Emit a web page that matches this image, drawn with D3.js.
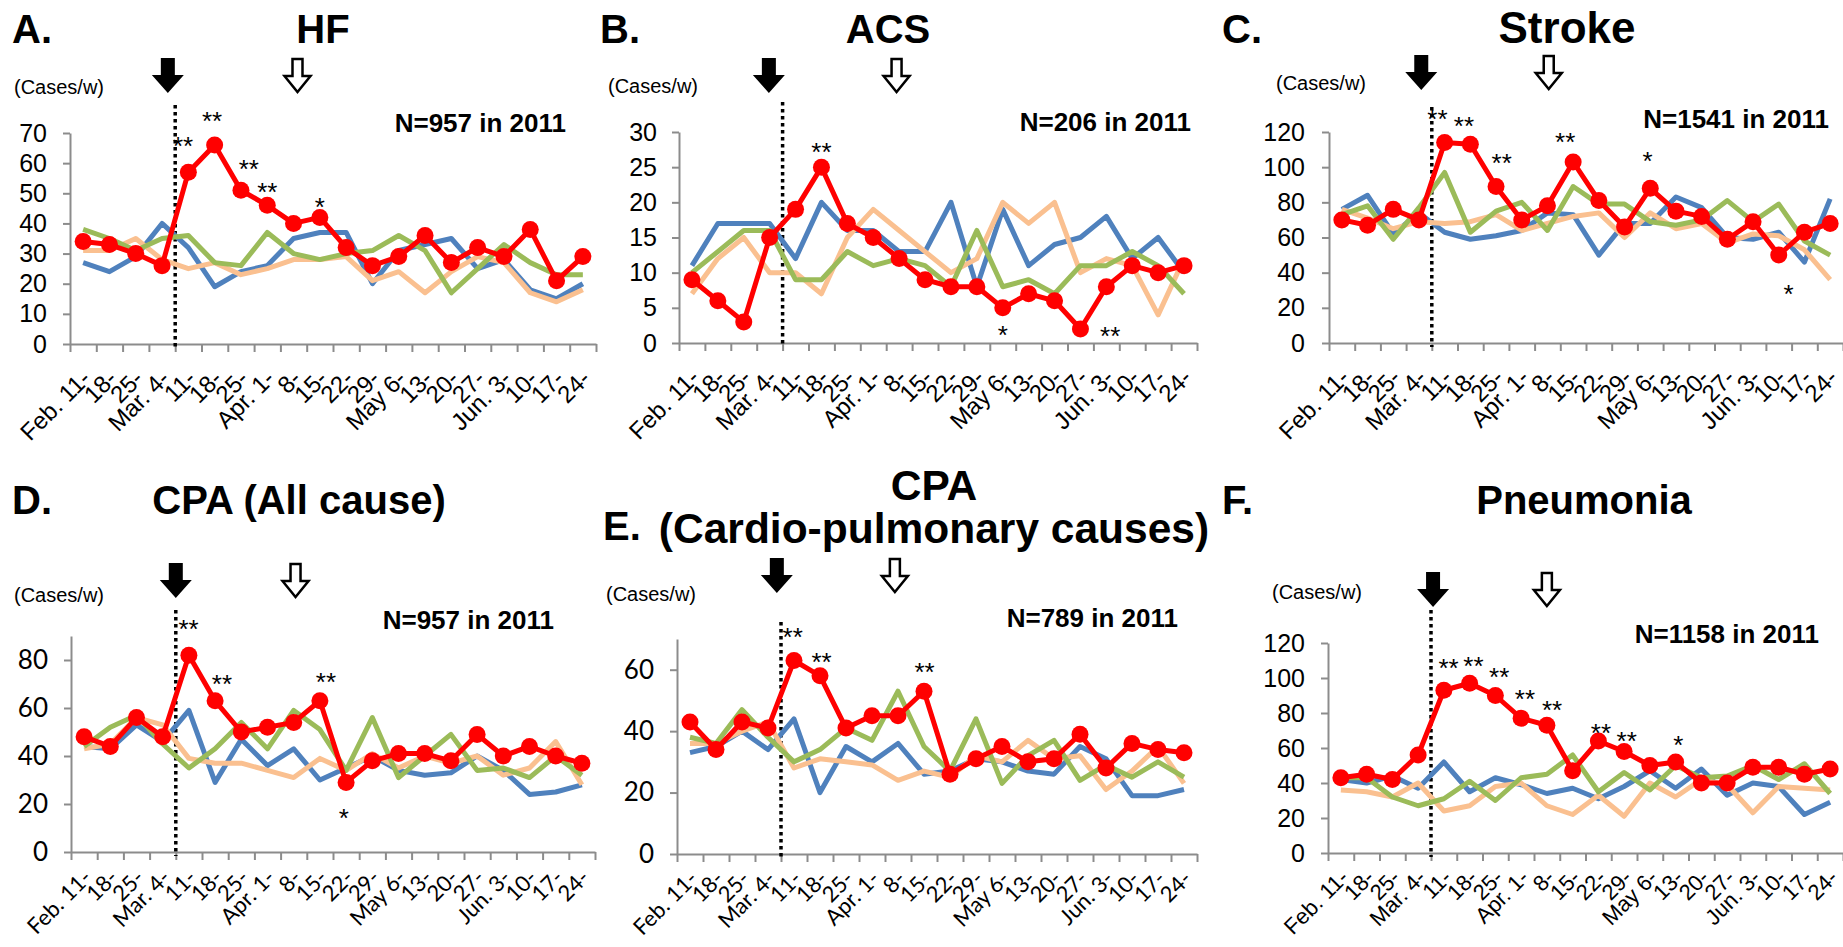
<!DOCTYPE html>
<html><head><meta charset="utf-8">
<script src="https://cdn.jsdelivr.net/npm/d3@7"></script>
<style>body{margin:0;background:#fff} svg{display:block}</style>
</head><body><svg id="c" width="1843" height="947"></svg>
<script>
const weeks = ["Feb. 11-","18-","25-","Mar. 4-","11-","18-","25-","Apr. 1-","8-","15-","22-","29-","May 6-","13-","20-","27-","Jun. 3-","10-","17-","24-"];

// A. HF
const hfBlue  = [27,24,29,40,32,19,24,26,35,37,37,20,31,33,35,25,28,18,15,20];
const hfPeach = [31,31,35,28,25,27,23,25,28,28,29,21,24,17,24,29,27,17,14,18];
const hfGreen = [38,35,31,35,36,27,26,37,30,28,30,31,36,31,17,25,33,27,23,23];
const hfRed   = [34,33,30,26,57,66,51,46,40,42,32,26,29,36,27,32,29,38,21,29];
// B. ACS
const acsBlue  = [11,17,17,17,12,20,16,16,13,13,20,8,19,11,14,15,18,12,15,10];
const acsPeach = [7,12,15,10,10,7,15,19,16,13,10,12,20,17,20,10,12,11,4,12];
const acsGreen = [10,13,16,16,9,9,13,11,12,11,8,16,8,9,7,11,11,13,11,7];
const acsRed   = [9,6,3,15,19,25,17,15,12,9,8,8,5,7,6,2,8,11,10,11];
// C. Stroke
const strokeBlue  = [76,84,62,74,63,59,61,64,74,73,50,68,68,83,77,60,59,63,46,82];
const strokePeach = [76,71,65,69,68,69,73,64,68,72,74,60,74,65,68,57,62,61,53,36];
const strokeGreen = [73,78,59,77,97,63,75,80,64,89,79,79,69,67,70,81,69,79,58,50];
const strokeRed   = [70,67,76,70,114,113,89,70,78,103,81,66,88,75,72,59,69,50,63,68];
// D. CPA (All cause)
const cpaBlue  = [44,43,53,46,59,29,47,36,43,30,35,40,34,32,33,40,34,24,25,28];
const cpaPeach = [43,45,56,53,39,37,37,34,31,39,34,41,35,40,37,40,32,35,46,28];
const cpaGreen = [44,52,57,45,35,43,54,43,59,51,34,56,31,40,49,34,35,31,40,32];
const cpaRed   = [48,44,56,48,82,63,50,52,54,63,29,38,41,41,38,49,40,44,40,37];
// E. CPA (Cardio-pulmonary causes)
const cpcBlue  = [33,35,40,34,44,20,35,30,36,26,27,31,30,27,26,35,31,19,19,21];
const cpcPeach = [36,36,40,43,28,31,30,29,24,27,25,32,30,37,31,32,21,27,35,23];
const cpcGreen = [38,36,47,38,30,34,41,37,53,35,27,44,23,32,37,24,29,25,30,25];
const cpcRed   = [43,34,43,41,63,58,41,45,45,53,26,31,35,30,31,39,28,36,34,33];
// F. Pneumonia
const pnBlue  = [42,40,44,37,52,35,43,39,34,37,31,38,47,37,48,33,40,38,22,29];
const pnPeach = [36,35,32,40,24,27,38,40,27,22,33,21,40,32,42,39,23,38,37,36];
const pnGreen = [43,43,32,27,31,41,30,43,45,56,35,46,36,50,43,44,50,42,51,34];
const pnRed   = [43,45,42,56,93,97,90,77,73,47,64,58,50,52,40,40,49,49,45,48];

// y tick labels per panel
const hfTicks = [0,10,20,30,40,50,60,70];
const acsTicks = [0,5,10,15,20,25,30];
const strokeTicks = [0,20,40,60,80,100,120];
const cpaTicks = [0,20,40,60,80];
const cpcTicks = [0,20,40,60];
const pnTicks = [0,20,40,60,80,100,120];

// significance marks: week index, mark, level (cases/w)
const hfStarIdx = [3.8,4.9,6.3,7.0,9.0], hfStarTxt = ["**","**","**","**","*"], hfStarLvl = [67.8,76,60,52.3,47.3];
const acsStarIdx = [5.0,12.0,16.15], acsStarTxt = ["**","*","**"], acsStarLvl = [28,2.0,1.9];
const strokeStarIdx = [3.72,4.75,6.22,8.69,11.9,17.38], strokeStarTxt = ["**","**","**","**","*","*"], strokeStarLvl = [131,126.6,105.8,118,106.7,31];
const cpaStarIdx = [3.99,5.26,9.23,9.91], cpaStarTxt = ["**","**","**","*"], cpaStarLvl = [95.6,72.6,73.3,16.5];
const cpcStarIdx = [3.95,5.06,9.02], cpcStarTxt = ["**","**","**"], cpcStarLvl = [72.5,64.6,61.1];
const pnStarIdx = [4.18,5.15,6.15,7.15,8.2,10.1,11.1,13.1], pnStarTxt = ["**","**","**","**","**","**","**","*"], pnStarLvl = [109,110.5,104,91.4,85.3,72,67.2,65.3];

const COLORS = {blue:"#4F81BD", peach:"#FAC090", green:"#9BBB59", red:"#FF0000"};
const ARIAL = "'Liberation Sans', Arial, sans-serif";
const CALI = "Lato, 'Open Sans', sans-serif";

const panels = [
  {letter:"A.", title:["HF"], N:"N=957 in 2011", max:70, ticks:hfTicks,
   series:[hfBlue,hfPeach,hfGreen,hfRed], stars:[hfStarIdx,hfStarTxt,hfStarLvl],
   L:{x0:70,x1:596,yTop:133,yBot:344, lx:12, ly:43, tx:323, tFs:40, ty:[43], cx:14, cy:94, nx:566, ny:132,
      blackIdx:3.22, hollowIdx:8.15, arrowTop:58, dotTop:105, yFont:ARIAL, yFs:25, yPad:16, xFont:ARIAL, xFs:24, xOff:36}},
  {letter:"B.", title:["ACS"], N:"N=206 in 2011", max:30, ticks:acsTicks,
   series:[acsBlue,acsPeach,acsGreen,acsRed], stars:[acsStarIdx,acsStarTxt,acsStarLvl],
   L:{x0:679,x1:1197,yTop:132,yBot:343, lx:600, ly:43, tx:888, tFs:40, ty:[43], cx:608, cy:93, nx:1191, ny:131,
      blackIdx:2.97, hollowIdx:7.9, arrowTop:58, dotTop:102, yFont:ARIAL, yFs:25, yPad:15, xFont:ARIAL, xFs:24, xOff:36}},
  {letter:"C.", title:["Stroke"], N:"N=1541 in 2011", max:120, ticks:strokeTicks,
   series:[strokeBlue,strokePeach,strokeGreen,strokeRed], stars:[strokeStarIdx,strokeStarTxt,strokeStarLvl],
   L:{x0:1329,x1:1843,yTop:132,yBot:343, lx:1222, ly:43, tx:1567, tFs:44, ty:[43], cx:1276, cy:90, nx:1829, ny:128,
      blackIdx:3.09, hollowIdx:8.05, arrowTop:55, dotTop:107, yFont:ARIAL, yFs:25, yPad:17, xFont:ARIAL, xFs:24, xOff:36}},
  {letter:"D.", title:["CPA (All cause)"], N:"N=957 in 2011", max:90, ticks:cpaTicks,
   series:[cpaBlue,cpaPeach,cpaGreen,cpaRed], stars:[cpaStarIdx,cpaStarTxt,cpaStarLvl],
   L:{x0:71,x1:595,yTop:636,yBot:852, lx:12, ly:514, tx:299, tFs:40, ty:[514], cx:14, cy:602, nx:554, ny:629,
      blackIdx:3.5, hollowIdx:8.07, arrowTop:563, dotTop:610, yFont:CALI, yFs:26, yPad:16, xFont:CALI, xFs:22, xOff:27}},
  {letter:"E.", title:["CPA","(Cardio-pulmonary causes)"], N:"N=789 in 2011", max:70, ticks:cpcTicks,
   series:[cpcBlue,cpcPeach,cpcGreen,cpcRed], stars:[cpcStarIdx,cpcStarTxt,cpcStarLvl],
   L:{x0:677,x1:1197,yTop:639,yBot:854, lx:603, ly:540, tx:934, tFs:42.5, ty:[500,543], cx:606, cy:601, nx:1178, ny:627,
      blackIdx:3.34, hollowIdx:7.88, arrowTop:558, dotTop:622, yFont:CALI, yFs:26, yPad:16, xFont:CALI, xFs:22, xOff:26}},
  {letter:"F.", title:["Pneumonia"], N:"N=1158 in 2011", max:120, ticks:pnTicks,
   series:[pnBlue,pnPeach,pnGreen,pnRed], stars:[pnStarIdx,pnStarTxt,pnStarLvl],
   L:{x0:1328,x1:1843,yTop:643,yBot:853, lx:1222, ly:514, tx:1584, tFs:40, ty:[514], cx:1272, cy:599, nx:1819, ny:643,
      blackIdx:3.58, hollowIdx:8.0, arrowTop:572, dotTop:610, yFont:ARIAL, yFs:25, yPad:16, xFont:ARIAL, xFs:22, xOff:26}}
];

const svg = d3.select("#c");
const AX = "#8C8C8C";

function drawPanel(p) {
  const L = p.L;
  const g = svg.append("g");
  const x = d3.scaleLinear().domain([-0.5, weeks.length - 0.5]).range([L.x0, L.x1]);
  const y = d3.scaleLinear().domain([0, p.max]).range([L.yBot, L.yTop]);

  // y axis
  const ya = g.append("g").attr("transform", `translate(${L.x0},0)`)
    .call(d3.axisLeft(y).tickValues(p.ticks).tickSize(7).tickSizeOuter(0).tickPadding(L.yPad).tickFormat(d3.format("d")));
  ya.select(".domain").attr("stroke", AX).attr("stroke-width", 2);
  ya.selectAll(".tick line").attr("stroke", AX).attr("stroke-width", 2);
  ya.selectAll(".tick text").attr("font-family", L.yFont).attr("font-size", L.yFs).attr("fill", "#000");

  // x axis (ticks at week boundaries)
  const xa = g.append("g").attr("transform", `translate(0,${L.yBot})`)
    .call(d3.axisBottom(x).tickValues(d3.range(-0.5, weeks.length, 1)).tickSize(8).tickSizeOuter(0).tickFormat(""));
  xa.select(".domain").attr("stroke", AX).attr("stroke-width", 2);
  xa.selectAll(".tick line").attr("stroke", AX).attr("stroke-width", 2);

  g.append("g").selectAll("text").data(weeks).join("text")
    .attr("transform", (d, i) => `translate(${x(i) + 9},${L.yBot + L.xOff}) rotate(-45)`)
    .attr("text-anchor", "end")
    .attr("font-family", L.xFont).attr("font-size", L.xFs).attr("fill", "#000")
    .text(d => d);

  // dotted line at Mar. 11
  g.append("line").attr("x1", x(3.5)).attr("x2", x(3.5)).attr("y1", L.dotTop).attr("y2", L.yBot + 4)
    .attr("stroke", "#000").attr("stroke-width", 3.5).attr("stroke-dasharray", "3.5,3.5");

  // series lines
  const line = d3.line().x((d, i) => x(i)).y(d => y(d));
  const cols = [COLORS.blue, COLORS.peach, COLORS.green, COLORS.red];
  p.series.forEach((s, k) => {
    g.append("path").datum(s).attr("d", line).attr("fill", "none")
      .attr("stroke", cols[k]).attr("stroke-width", 5).attr("stroke-linejoin", "round");
  });
  g.append("g").selectAll("circle").data(p.series[3]).join("circle")
    .attr("cx", (d, i) => x(i)).attr("cy", d => y(d)).attr("r", 8.5).attr("fill", COLORS.red);

  // stars
  const [si, st, sl] = p.stars;
  g.append("g").selectAll("text").data(si).join("text")
    .attr("x", d => x(d)).attr("y", (d, k) => y(sl[k]) + 15)
    .attr("text-anchor", "middle").attr("font-family", ARIAL).attr("font-size", 26).attr("fill", "#000")
    .text((d, k) => st[k]);

  // labels
  g.append("text").attr("x", L.lx).attr("y", L.ly).text(p.letter)
    .attr("font-family", ARIAL).attr("font-weight", "bold").attr("font-size", 40);
  p.title.forEach((t, k) => g.append("text").attr("x", L.tx).attr("y", L.ty[k]).attr("text-anchor", "middle").text(t)
    .attr("font-family", ARIAL).attr("font-weight", "bold").attr("font-size", L.tFs));
  g.append("text").attr("x", L.cx).attr("y", L.cy).text("(Cases/w)")
    .attr("font-family", ARIAL).attr("font-size", 20);
  g.append("text").attr("x", L.nx).attr("y", L.ny).attr("text-anchor", "end").text(p.N)
    .attr("font-family", ARIAL).attr("font-weight", "bold").attr("font-size", 26);

  // arrows
  const ax = x(L.blackIdx), hx = x(L.hollowIdx), t = L.arrowTop;
  g.append("path").attr("d", `M${ax-7},${t}H${ax+7}V${t+17}H${ax+16}L${ax},${t+35}L${ax-16},${t+17}H${ax-7}Z`)
    .attr("fill", "#000");
  g.append("path").attr("d", `M${hx-5},${t+1}H${hx+5}V${t+18}H${hx+13}L${hx},${t+34}L${hx-13},${t+18}H${hx-5}Z`)
    .attr("fill", "#fff").attr("stroke", "#000").attr("stroke-width", 2.5);
}

panels.forEach(drawPanel);
</script></body></html>
